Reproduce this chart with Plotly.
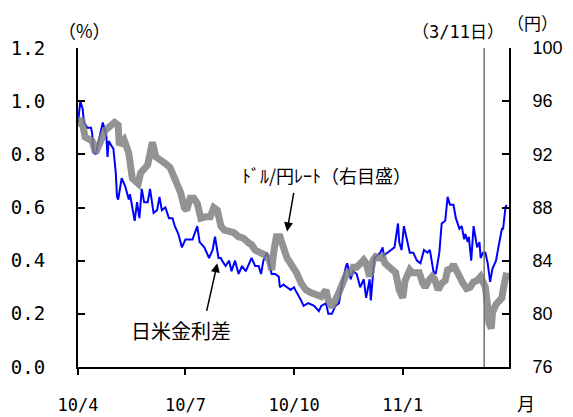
import plotly.graph_objects as go

# 日米金利差 (%)
spread_dates = [
    "2010-04-01", "2010-04-03", "2010-04-05", "2010-04-06", "2010-04-09", "2010-04-12",
    "2010-04-13", "2010-04-14", "2010-04-16", "2010-04-19", "2010-04-22", "2010-04-25",
    "2010-04-26", "2010-04-27", "2010-04-30", "2010-05-01", "2010-05-03", "2010-05-04",
    "2010-05-05", "2010-05-08", "2010-05-11", "2010-05-14", "2010-05-15", "2010-05-17",
    "2010-05-19", "2010-05-21", "2010-05-23", "2010-05-25", "2010-05-27", "2010-05-30",
    "2010-06-01", "2010-06-04", "2010-06-07", "2010-06-09", "2010-06-11", "2010-06-14",
    "2010-06-17", "2010-06-20", "2010-06-22", "2010-06-25", "2010-06-28", "2010-07-01",
    "2010-07-04", "2010-07-07", "2010-07-11", "2010-07-13", "2010-07-17", "2010-07-21",
    "2010-07-24", "2010-07-26", "2010-07-29", "2010-07-31", "2010-08-01", "2010-08-04",
    "2010-08-07", "2010-08-09", "2010-08-12", "2010-08-15", "2010-08-18", "2010-08-21",
    "2010-08-24", "2010-08-26", "2010-08-29", "2010-09-01", "2010-09-03", "2010-09-05",
    "2010-09-08", "2010-09-10", "2010-09-12", "2010-09-15", "2010-09-18", "2010-09-19",
    "2010-09-22", "2010-09-25", "2010-09-28", "2010-10-01", "2010-10-02", "2010-10-07",
    "2010-10-09", "2010-10-13", "2010-10-18", "2010-10-22", "2010-10-24", "2010-10-28",
    "2010-10-30", "2010-11-02", "2010-11-05", "2010-11-08", "2010-11-11", "2010-11-14",
    "2010-11-15", "2010-11-18", "2010-11-20", "2010-11-23", "2010-11-26", "2010-11-29",
    "2010-12-01", "2010-12-04", "2010-12-05", "2010-12-08", "2010-12-11", "2010-12-13",
    "2010-12-15", "2010-12-16", "2010-12-19", "2010-12-22", "2010-12-25", "2010-12-28",
    "2010-12-29", "2010-12-31", "2011-01-02", "2011-01-05", "2011-01-07", "2011-01-10",
    "2011-01-13", "2011-01-16", "2011-01-19", "2011-01-22", "2011-01-24", "2011-01-27",
    "2011-01-29", "2011-02-01", "2011-02-03", "2011-02-06", "2011-02-08", "2011-02-10",
    "2011-02-13", "2011-02-15", "2011-02-18", "2011-02-20", "2011-02-22", "2011-02-23",
    "2011-02-25", "2011-02-26", "2011-02-28", "2011-03-02", "2011-03-05", "2011-03-07",
    "2011-03-08", "2011-03-10", "2011-03-12", "2011-03-14", "2011-03-16", "2011-03-18",
    "2011-03-21", "2011-03-23", "2011-03-26", "2011-03-27", "2011-03-29", "2011-03-30",
]
spread = [
    0.92, 1.00, 0.97, 0.92, 0.90, 0.90,
    0.88, 0.81, 0.80, 0.86, 0.92, 0.87,
    0.79, 0.85, 0.83, 0.82, 0.73, 0.64,
    0.63, 0.71, 0.68, 0.63, 0.65, 0.60,
    0.55, 0.62, 0.56, 0.67, 0.62, 0.62,
    0.67, 0.58, 0.59, 0.64, 0.59, 0.60,
    0.56, 0.56, 0.53, 0.50, 0.45, 0.48,
    0.48, 0.48, 0.53, 0.47, 0.45, 0.41,
    0.44, 0.49, 0.41, 0.41, 0.40, 0.38,
    0.40, 0.36, 0.40, 0.35, 0.38, 0.36,
    0.39, 0.41, 0.38, 0.38, 0.35, 0.40,
    0.43, 0.39, 0.35, 0.35, 0.34, 0.30,
    0.31, 0.30, 0.29, 0.30, 0.29, 0.25,
    0.23, 0.24, 0.23, 0.21, 0.23, 0.24,
    0.20, 0.20, 0.23, 0.24, 0.32, 0.38,
    0.39, 0.33, 0.36, 0.35, 0.30, 0.33,
    0.26, 0.33, 0.25, 0.41, 0.42, 0.43,
    0.45, 0.42, 0.43, 0.44, 0.45, 0.54,
    0.47, 0.44, 0.53, 0.47, 0.43, 0.43,
    0.40, 0.39, 0.44, 0.43, 0.44, 0.36,
    0.35, 0.43, 0.54, 0.55, 0.64, 0.61,
    0.61, 0.56, 0.52, 0.53, 0.48, 0.50,
    0.47, 0.49, 0.40, 0.53, 0.45, 0.47,
    0.41, 0.43, 0.43, 0.39, 0.32, 0.37,
    0.40, 0.45, 0.52, 0.52, 0.60, 0.61,
]

# ドル/円レート (円)
yen_dates = [
    "2010-04-01", "2010-04-04", "2010-04-07", "2010-04-13", "2010-04-16", "2010-04-20",
    "2010-04-24", "2010-04-28", "2010-05-02", "2010-05-05", "2010-05-06", "2010-05-10",
    "2010-05-14", "2010-05-17", "2010-05-22", "2010-05-24", "2010-05-27", "2010-05-30",
    "2010-06-02", "2010-06-03", "2010-06-06", "2010-06-10", "2010-06-14", "2010-06-18",
    "2010-06-21", "2010-06-24", "2010-06-27", "2010-06-30", "2010-07-02", "2010-07-05",
    "2010-07-08", "2010-07-11", "2010-07-14", "2010-07-18", "2010-07-22", "2010-07-25",
    "2010-07-28", "2010-07-31", "2010-08-03", "2010-08-07", "2010-08-11", "2010-08-15",
    "2010-08-19", "2010-08-24", "2010-08-26", "2010-08-29", "2010-09-02", "2010-09-07",
    "2010-09-10", "2010-09-12", "2010-09-14", "2010-09-16", "2010-09-19", "2010-09-22",
    "2010-09-25", "2010-09-28", "2010-10-01", "2010-10-03", "2010-10-07", "2010-10-11",
    "2010-10-15", "2010-10-20", "2010-10-24", "2010-10-28", "2010-10-30", "2010-11-02",
    "2010-11-05", "2010-11-08", "2010-11-12", "2010-11-15", "2010-11-18", "2010-11-20",
    "2010-11-23", "2010-11-26", "2010-11-29", "2010-12-01", "2010-12-04", "2010-12-07",
    "2010-12-09", "2010-12-12", "2010-12-15", "2010-12-17", "2010-12-21", "2010-12-23",
    "2010-12-26", "2010-12-29", "2011-01-01", "2011-01-03", "2011-01-07", "2011-01-09",
    "2011-01-12", "2011-01-15", "2011-01-18", "2011-01-20", "2011-01-23", "2011-01-26",
    "2011-01-28", "2011-01-31", "2011-02-03", "2011-02-06", "2011-02-08", "2011-02-11",
    "2011-02-13", "2011-02-15", "2011-02-18", "2011-02-21", "2011-02-24", "2011-02-27",
    "2011-03-02", "2011-03-05", "2011-03-08", "2011-03-10", "2011-03-12", "2011-03-14",
    "2011-03-15", "2011-03-17", "2011-03-18", "2011-03-21", "2011-03-23", "2011-03-26",
    "2011-03-27", "2011-03-29", "2011-03-30",
]
yen = [
    94.1, 94.7, 93.3, 93.0, 92.1, 93.1,
    93.8, 94.1, 94.4, 94.2, 92.7, 93.1,
    92.1, 90.2, 89.8, 90.6, 91.0, 91.2,
    92.5, 92.9, 91.8, 91.6, 91.3, 91.0,
    90.3, 89.5, 89.1, 88.0, 87.8, 88.7,
    88.7, 88.3, 87.2, 87.3, 87.3, 88.0,
    87.8, 86.6, 86.3, 86.2, 86.1, 85.8,
    85.7, 85.3, 85.2, 84.8, 84.6, 84.4,
    84.05, 83.3, 84.8, 85.8, 85.8, 84.8,
    84.2, 83.8, 83.4, 83.1, 82.3, 81.8,
    81.6, 81.4, 81.3, 81.8, 81.0, 80.5,
    81.0, 81.6, 82.5, 83.1, 83.1, 83.5,
    83.5, 83.8, 84.05, 83.8, 82.8, 84.05,
    84.3, 84.2, 84.3, 83.8, 83.5, 83.3,
    83.1, 81.8, 81.2, 82.5, 83.3, 83.1,
    83.1, 83.1, 82.3, 82.0, 82.5, 82.8,
    82.6, 81.8, 82.3, 82.5, 83.3, 83.4,
    83.7, 83.3, 82.8, 82.3, 81.9, 82.0,
    82.4, 82.5, 82.8, 82.5, 82.0, 80.5,
    79.3, 78.9, 80.1, 80.7, 80.9, 81.2,
    81.8, 82.8, 83.1,
]

tick_dates = ["2010-04-01", "2010-07-01", "2010-10-01", "2011-01-01"]
tick_labels = ["10/4", "10/7", "10/10", "11/1"]
quake_date = "2011-03-11"

FONT = "Noto Sans CJK JP, Noto Sans, sans-serif"
MONO = "DejaVu Sans Mono, Noto Sans CJK JP, sans-serif"

# the page body adds an 8px offset, so the figure is drawn 8px smaller
OFF = 8
PL, PT, PW, PH = 78, 48, 431, 319   # plot area in screen pixels

fig = go.Figure()
fig.add_trace(go.Scatter(x=spread_dates, y=spread, mode="lines",
                         line=dict(color="#0000ff", width=2), name="日米金利差"))
fig.add_trace(go.Scatter(x=yen_dates, y=yen, mode="lines", yaxis="y2",
                         line=dict(color="rgba(128,128,128,0.85)", width=7),
                         name="ﾄﾞﾙ/円ﾚｰﾄ"))

# 3/11 line
fig.add_shape(type="line", xref="x", yref="paper", x0=quake_date, x1=quake_date,
              y0=0, y1=1, line=dict(color="#707070", width=1.5))

fig.update_layout(
    width=573 - OFF, height=417 - OFF,
    margin=dict(l=PL - OFF, r=573 - PL - PW, t=PT - OFF, b=417 - PT - PH),
    paper_bgcolor="white", plot_bgcolor="white",
    showlegend=False,
    font=dict(family=FONT, color="black", size=18),
    xaxis=dict(type="date", range=["2010-04-01", "2011-04-01"],
               tickvals=tick_dates, ticktext=tick_labels,
               ticks="outside", ticklen=6, tickwidth=2, tickcolor="black",
               showline=True, linewidth=2, linecolor="black",
               showgrid=False, zeroline=False, ticklabelstandoff=16,
               automargin=False, tickfont=dict(size=17, family=MONO)),
    yaxis=dict(range=[0, 1.2], dtick=0.2, tickformat=".1f",
               ticks="inside", ticklen=7, tickwidth=2, tickcolor="black",
               showline=True, linewidth=2, linecolor="black",
               showgrid=False, zeroline=False, ticklabelstandoff=27,
               automargin=False, tickfont=dict(size=19, family=MONO)),
    yaxis2=dict(range=[76, 100], dtick=4, overlaying="y", side="right",
                ticks="inside", ticklen=7, tickwidth=2, tickcolor="black",
                showline=True, linewidth=2, linecolor="black",
                showgrid=False, zeroline=False, ticklabelstandoff=18,
                automargin=False,
                tickfont=dict(size=18, family="Liberation Sans Narrow, Liberation Sans")),
)

ann = [
    dict(text="（%）", x=84, y=30, xanchor="center"),
    dict(text="（円）", x=532, y=22, xanchor="center", size=17),
    dict(text="（3/11日）", x=506, y=32, xanchor="right", size=17, family=MONO),
    dict(text="月", x=526, y=403, xanchor="center"),
    dict(text="ﾄﾞﾙ/円ﾚｰﾄ（右目盛）", x=240, y=175, xanchor="left", size=18),
    dict(text="日米金利差", x=181, y=330, xanchor="center", size=20),
]
for a in ann:
    fig.add_annotation(text=a["text"], xref="paper", yref="paper",
                       x=(a["x"] - PL) / PW, y=(PT + PH - a["y"]) / PH,
                       xanchor=a["xanchor"], yanchor="middle", showarrow=False,
                       font=dict(size=a.get("size", 18), family=a.get("family", FONT)))

# arrows
fig.add_annotation(x="2010-07-28", y=0.39, xref="x", yref="y", text="",
                   showarrow=True, ax=-11, ay=49, arrowhead=2, arrowsize=1.2,
                   arrowwidth=1.5, arrowcolor="black")
fig.add_annotation(x="2010-09-25", y=86.2, xref="x", yref="y2", text="",
                   showarrow=True, ax=7, ay=-40, arrowhead=2, arrowsize=1.2,
                   arrowwidth=1.5, arrowcolor="black")

fig.write_html("out.html")
